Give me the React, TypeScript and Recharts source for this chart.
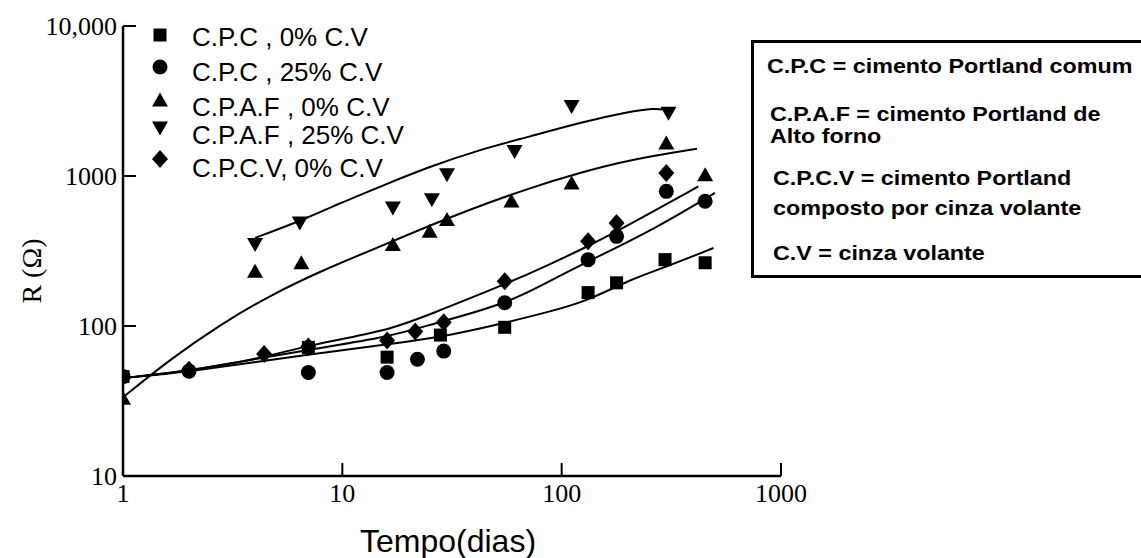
import React from 'react';
import { ComposedChart, Line, Scatter, XAxis, YAxis } from 'recharts';

const cpc0 = [
  { x: 1, y: 46 }, { x: 7, y: 72 }, { x: 16, y: 62 }, { x: 28, y: 87 }, { x: 55, y: 98 },
  { x: 132, y: 167 }, { x: 178, y: 194 }, { x: 296, y: 277 }, { x: 451, y: 264 },
];
const cpc25 = [
  { x: 1, y: 46 }, { x: 2, y: 50 }, { x: 7, y: 49 }, { x: 16, y: 49 }, { x: 22, y: 60 },
  { x: 29, y: 68 }, { x: 55, y: 143 }, { x: 132, y: 277 }, { x: 178, y: 396 },
  { x: 300, y: 790 }, { x: 451, y: 678 },
];
const cpaf0 = [
  { x: 1, y: 33 }, { x: 4, y: 232 }, { x: 6.5, y: 264 }, { x: 17, y: 349 }, { x: 25, y: 428 },
  { x: 30, y: 512 }, { x: 59, y: 680 }, { x: 111, y: 898 }, { x: 300, y: 1659 }, { x: 451, y: 1021 },
];
const cpaf25 = [
  { x: 4, y: 349 }, { x: 6.4, y: 486 }, { x: 17, y: 612 }, { x: 25.6, y: 695 }, { x: 30, y: 1020 },
  { x: 61, y: 1458 }, { x: 111, y: 2904 }, { x: 307, y: 2624 },
];
const cpcv0 = [
  { x: 2, y: 51 }, { x: 4.4, y: 65 }, { x: 7, y: 73 }, { x: 16, y: 80 }, { x: 21.5, y: 92 },
  { x: 29, y: 106 }, { x: 55, y: 199 }, { x: 132, y: 367 }, { x: 178, y: 486 }, { x: 300, y: 1047 },
];

// fitted curves
const fitCpaf25 = [
  { x: 4, y: 387 }, { x: 6.4, y: 499 }, { x: 9.8, y: 661 }, { x: 15, y: 853 }, { x: 24, y: 1130 },
  { x: 42, y: 1496 }, { x: 72, y: 1834 }, { x: 121, y: 2274 }, { x: 205, y: 2691 },
  { x: 262, y: 2834 }, { x: 301, y: 2761 },
];
const fitCpaf0 = [
  { x: 1, y: 33.5 }, { x: 1.64, y: 60 }, { x: 2.77, y: 102 }, { x: 4.68, y: 160 }, { x: 7.9, y: 231 },
  { x: 13.4, y: 318 }, { x: 22.6, y: 439 }, { x: 38, y: 597 }, { x: 72, y: 836 }, { x: 121, y: 1052 },
  { x: 205, y: 1284 }, { x: 414, y: 1519 },
];
const fitCpcv0 = [
  { x: 1, y: 45 }, { x: 2, y: 50 }, { x: 4.4, y: 61.5 }, { x: 7.1, y: 75 }, { x: 16, y: 92.5 },
  { x: 25, y: 119.5 }, { x: 55, y: 189 }, { x: 85, y: 251 }, { x: 132, y: 340 }, { x: 198, y: 462 },
  { x: 420, y: 853 },
];
const fitCpc25 = [
  { x: 1, y: 45 }, { x: 2, y: 50 }, { x: 7.1, y: 70 }, { x: 16, y: 84 }, { x: 25, y: 102 },
  { x: 55, y: 139 }, { x: 85, y: 194 }, { x: 132, y: 270 }, { x: 262, y: 439 }, { x: 500, y: 771 },
];
const fitCpc0 = [
  { x: 1, y: 45 }, { x: 2, y: 49.5 }, { x: 7.1, y: 65 }, { x: 16, y: 75 }, { x: 33, y: 88 },
  { x: 55, y: 105 }, { x: 85, y: 123 }, { x: 130, y: 146 }, { x: 205, y: 204 }, { x: 291, y: 244 },
  { x: 492, y: 331 },
];

const xTicks = [1, 10, 100, 1000];
const yTicks = [10, 100, 1000, 10000];

const seriesNames = ['C.P.C , 0% C.V', 'C.P.C , 25% C.V', 'C.P.A.F , 0% C.V', 'C.P.A.F , 25% C.V', 'C.P.C.V, 0% C.V'];

const notes = [
  'C.P.C = cimento Portland comum',
  'C.P.A.F = cimento Portland de',
  'Alto forno',
  'C.P.C.V = cimento Portland',
  'composto por cinza volante',
  'C.V = cinza volante',
];

const SERIF = '"Liberation Serif", "Times New Roman", serif';
const SANS = '"Liberation Sans", Arial, sans-serif';

// marker shapes
const Square = ({ cx, cy }: any) => <rect x={cx - 6.5} y={cy - 6.5} width={13} height={13} fill="#000" />;
const Blob = ({ cx, cy }: any) => <circle cx={cx} cy={cy} r={7.5} fill="#000" />;
const TriUp = ({ cx, cy }: any) => (
  <polygon points={`${cx},${cy - 7.5} ${cx + 8},${cy + 6.5} ${cx - 8},${cy + 6.5}`} fill="#000" />
);
const TriDown = ({ cx, cy }: any) => (
  <polygon points={`${cx - 8},${cy - 6.5} ${cx + 8},${cy - 6.5} ${cx},${cy + 7.5}`} fill="#000" />
);
const Diamond = ({ cx, cy }: any) => (
  <polygon points={`${cx},${cy - 9} ${cx + 8},${cy} ${cx},${cy + 9} ${cx - 8},${cy}`} fill="#000" />
);

const shapes = [Square, Blob, TriUp, TriDown, Diamond];
const pointSets = [cpc0, cpc25, cpaf0, cpaf25, cpcv0];
const fits = [fitCpc0, fitCpc25, fitCpaf0, fitCpaf25, fitCpcv0];

// ticks point inward, drawn here together with the labels
const XTick = (props: any) => {
  const { x, y, payload, index } = props;
  return (
    <g>
      {index > 0 && <line x1={x} x2={x} y1={y} y2={y - 13} stroke="#000" strokeWidth={2} />}
      <text x={x} y={y + 8} dy="0.71em" textAnchor="middle" fontFamily={SERIF} fontSize={26} fill="#000">
        {payload.value}
      </text>
    </g>
  );
};

const YTick = (props: any) => {
  const { x, y, payload, index } = props;
  return (
    <g>
      {index > 0 && <line x1={x} x2={x + 13} y1={y} y2={y} stroke="#000" strokeWidth={2} />}
      <text x={x - 6} y={y} dy="0.35em" textAnchor="end" fontFamily={SERIF} fontSize={26} fill="#000">
        {payload.value === 10000 ? '10,000' : payload.value}
      </text>
    </g>
  );
};

const XTitle = ({ viewBox }: any) => {
  const vb = viewBox || { x: 123, y: 476 };
  return (
    <text x={vb.x + 325} y={vb.y + 76} textAnchor="middle" fontFamily={SANS} fontSize={32} fill="#000">
      Tempo(dias)
    </text>
  );
};

const YTitle = ({ viewBox }: any) => {
  const vb = viewBox || { x: 23, y: 26 };
  const cx = vb.x + 8;
  const cy = vb.y + 245;
  return (
    <text x={cx} y={cy} transform={`rotate(-90, ${cx}, ${cy})`} textAnchor="middle" dy="0.35em"
      fontFamily={SERIF} fontSize={28} fill="#000">
      R (Ω)
    </text>
  );
};

const legendTextY = [37, 72, 107, 135, 168];
const legendMarkY = [35, 67, 100, 128, 159];
const noteTops = [55, 103, 125, 167, 197, 242];
const noteLeft = [767, 770, 770, 773, 773, 773];

export default function App() {
  return (
    <div style={{ position: 'absolute', left: 0, top: 0, width: 1141, height: 558, overflow: 'hidden', background: '#fff' }}>
      <ComposedChart width={1141} height={558} margin={{ top: 26, right: 360, bottom: 42, left: 23 }}>
        <XAxis
          dataKey="x"
          type="number"
          scale="log"
          domain={[1, 1000]}
          ticks={xTicks}
          interval={0}
          allowDataOverflow
          height={40}
          axisLine={{ stroke: '#000', strokeWidth: 2.5 }}
          tickLine={false}
          tickSize={0}
          tickMargin={0}
          tick={(p: any) => <XTick {...p} />}
          label={{ content: (p: any) => <XTitle {...p} /> }}
        />
        <YAxis
          type="number"
          scale="log"
          domain={[10, 10000]}
          ticks={yTicks}
          interval={0}
          allowDataOverflow
          width={100}
          axisLine={{ stroke: '#000', strokeWidth: 2.5 }}
          tickLine={false}
          tickSize={0}
          tickMargin={0}
          tick={(p: any) => <YTick {...p} />}
          label={{ content: (p: any) => <YTitle {...p} /> }}
        />
        {fits.map((d, i) => (
          <Line
            key={`fit-${i}`}
            data={d}
            dataKey="y"
            type="basis"
            stroke="#000"
            strokeWidth={2}
            dot={false}
            activeDot={false}
            isAnimationActive={false}
          />
        ))}
        {pointSets.map((d, i) => (
          <Scatter
            key={`pts-${i}`}
            name={seriesNames[i]}
            data={d}
            dataKey="y"
            shape={shapes[i]}
            isAnimationActive={false}
          />
        ))}
      </ComposedChart>

      {/* symbol legend, top left inside the plot */}
      <svg width={480} height={200} style={{ position: 'absolute', left: 0, top: 0 }}>
        {seriesNames.map((name, i) => {
          const Mark = shapes[i];
          return (
            <g key={name}>
              <Mark cx={160} cy={legendMarkY[i]} />
              <text x={192} y={legendTextY[i]} dy="0.35em" fontFamily={SANS} fontSize={26} fill="#000">
                {name}
              </text>
            </g>
          );
        })}
      </svg>

      {/* abbreviations box */}
      <div
        style={{
          position: 'absolute', left: 751, top: 40, width: 400, height: 238,
          border: '3px solid #000', boxSizing: 'border-box',
        }}
      />
      {notes.map((t, i) => (
        <div
          key={t}
          style={{
            position: 'absolute', left: noteLeft[i], top: noteTops[i], fontFamily: SANS,
            fontWeight: 'bold', fontSize: 21, lineHeight: 1, whiteSpace: 'nowrap', color: '#000',
            transform: 'scaleX(1.11)', transformOrigin: 'left center',
          }}
        >
          {t}
        </div>
      ))}
    </div>
  );
}
